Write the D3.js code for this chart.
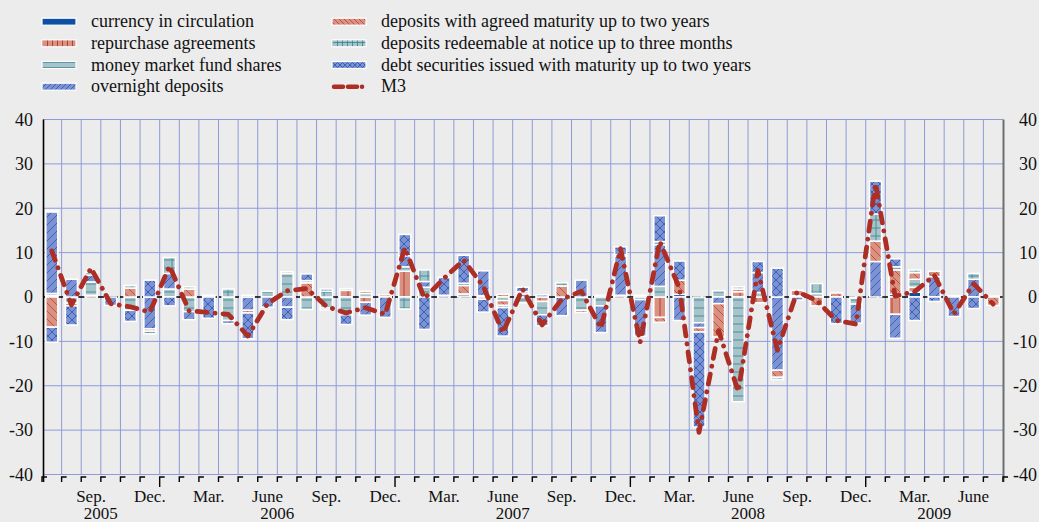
<!DOCTYPE html>
<html>
<head>
<meta charset="utf-8">
<script src="https://cdn.jsdelivr.net/npm/d3@7"></script>
<style>
  body { margin: 0; background: #ececec; }
  svg { display: block; font-family: "Liberation Serif", "Times New Roman", serif; }
</style>
</head>
<body>
<div id="chart"></div>
<script>
// Monthly contributions, July 2005 - July 2009 (percentage points)
var startMonth = new Date(2005, 6, 1);
var endMonth = new Date(2009, 7, 1);

//                2005: Jul..Dec           | 2006                                              | 2007                                              | 2008                                                  | 2009: Jan..Jul
var currency   = [0, 0, 0, 0, 0, 0,          0, 0, 0, 0, 0, 0, 0, 0, 0, 0, 0, 0,                 0, 0, 0, 0, 0, 0, 0, 0, 0, 0, 0, 0,                 0, 0, 0.6, 0, 0, 0, 0, 0, 0, 0, 0, 0,                  0, 0.6, 1.1, 0, 0.3, 0, 0];
var repos      = [0.3, 0, 0.4, 0, 0, 0,      0, 0, 0, 0, 0, 0, 0, 0, 0, 1.5, -1.2, 0.5,          5.8, 0, 0, 0, 0.3, 0.6, 0, -1.0, 0, 0, 0.4, 0.4,     0.4, -4.6, 0, 0, 0, 1.2, -1.3, 0, 0.3, 0, 0, -0.3,     0, -3.9, 1.1, 0, 0, 0, 0];
var mmfShares  = [0.5, -1.4, 3.0, 0, -3.0, 0, 1.8, -3.3, 0, -5.3, 0, 1.3, 5.3, -2.8, -2.5, -4.0, 0.8, 0, 1.0, 2.2, 0, 0.7, 0, -0.8, -1.3, -3.0, 0, -3.0, -2.0, 0, -0.6, 2.4, 0, -5.8, 1.4, -23.6, 1.0, 0, 0, 0.8, 0, -1.3, 0, 0, 1.8, 0, 0, 0, 0];
var overnight  = [18.4, 4.0, 1.5, -1.9, 0, -7.2, 3.5, -1.8, 0.4, -0.7, -3.0, -2.3, -2.3, 0, -0.4, 0, -2.9, -4.6, 2.5, 1.3, 0.4, 0, 5.6, 0, 0.7, 0.5, -4.2, 3.8, -6.0, 8.8, -8.2, 9.4, -5.3, -1.1, -1.5, 0, 4.5, -16.5, -0.7, 0, 0, -4.3, 8.0, -5.4, 0, 4.6, -4.4, 4.0, 0.2];
var agreed     = [-6.8, -0.6, 0, 0, 2.0, -0.5, 0, 1.8, 0, 0, -0.6, 0, 0.4, 3.2, 0, 0, 0.5, 0, 0, 0, 0, 1.9, -0.5, -1.1, 0.5, 0, 2.5, -0.5, 0, 0, 0, -1.1, 3.2, -1.0, -7.5, 0.6, 0, -1.6, 1.2, -2.0, 0.9, 0, 4.6, 5.5, 1.5, 1.2, 0, 0, -1.9];
var redeemable = [0.3, 0, 0.7, 0, 0.6, -0.6, 3.6, 0.5, 0, 1.8, 0.4, 0, 0, 0.5, 1.3, 0.4, 0, 0, -2.7, 2.6, 0, 0.5, 0, -0.5, 0, 0, 0.7, 0, 0, 0.3, 0, 0.7, 0, 0, 0, 0.5, 0, -0.5, 0, 2.2, 0, 0, 6.1, 0.7, 0.6, 0, 0, 1.3, 0];
var debtSec    = [-3.4, -4.3, 0, 0, -2.5, 3.8, -2.0, 0, -4.8, 0, -5.8, 0, -2.8, 1.5, 0.5, -2.2, 0, 0, 4.8, -7.3, 4.0, 6.3, -2.9, -6.4, 1.0, -2.5, 0, 0, 0, 1.8, 0, 5.8, 4.3, -21.4, 0, 0, 2.5, 6.5, 0, 0, -6.0, 0, 7.4, 1.8, -5.3, -1.0, 0, -2.6, 0];
var m3         = [10.4, -1.8, 6.5, -1.5, -2.2, -3.4, 7.0, -3.1, -3.5, -3.9, -8.8, -1.5, 1.4, 1.9, -2.1, -3.6, -2.4, -3.9, 11.1, -0.3, 4.2, 8.3, 2.4, -8.0, 1.8, -6.3, -0.5, 1.3, -7.0, 10.9, -10.2, 12.5, 2.0, -30.5, -7.6, -21.3, 6.0, -12.0, 1.2, -0.8, -5.3, -6.1, 25.6, 0.2, 1.2, 4.9, -3.8, 3.0, -1.6];

var seriesKeys = ["currency", "repos", "mmf", "overnight", "agreed", "redeemable", "debt"];
var seriesNames = [
  "currency in circulation",
  "repurchase agreements",
  "money market fund shares",
  "overnight deposits",
  "deposits with agreed maturity up to two years",
  "deposits redeemable at notice up to three months",
  "debt securities issued with maturity up to two years"
];
var yTicks = [-40, -30, -20, -10, 0, 10, 20, 30, 40];
var quarterLabels = { 2: "Mar.", 5: "June", 8: "Sep.", 11: "Dec." };
var years = [2005, 2006, 2007, 2008, 2009];

// fill + hatch style for each component
var styles = {
  currency:   { bg: "#0d4fa3", line: null, kind: "none" },
  repos:      { bg: "#d99282", line: "#b3332a", kind: "vert" },
  mmf:        { bg: "#a8c3ca", line: "#3b8995", kind: "horiz" },
  overnight:  { bg: "#7d92d3", line: "#2f5cb2", kind: "up" },
  agreed:     { bg: "#d99282", line: "#bb4a3e", kind: "down" },
  redeemable: { bg: "#a8c3ca", line: "#3b8995", kind: "plus" },
  debt:       { bg: "#7d92d3", line: "#2f5cb2", kind: "cross" }
};

var svgWidth = 1039;
var svgHeight = 522;
var fontSize = 18;

var svg = d3.select("#chart")
  .append("svg")
  .attr("width", svgWidth)
  .attr("height", svgHeight);

svg.append("rect")
  .attr("width", svgWidth)
  .attr("height", svgHeight)
  .attr("fill", "#ececec");

var defs = svg.append("defs");

function hatchPaths(kind, s) {
  var up = "M0," + s + "L" + s + ",0M-1,1L1,-1M" + (s - 1) + "," + (s + 1) + "L" + (s + 1) + "," + (s - 1);
  var down = "M0,0L" + s + "," + s + "M-1," + (s - 1) + "L1," + (s + 1) + "M" + (s - 1) + ",-1L" + (s + 1) + ",1";
  if (kind === "vert") return "M" + s / 2 + ",0V" + s;
  if (kind === "horiz") return "M0," + s / 2 + "H" + s;
  if (kind === "plus") return "M0," + s / 2 + "H" + s + "M" + s / 2 + ",0V" + s;
  if (kind === "up") return up;
  if (kind === "down") return down;
  if (kind === "cross") return up + down;
  return null;
}

function makePattern(id, st, size) {
  var p = defs.append("pattern")
    .attr("id", id)
    .attr("patternUnits", "userSpaceOnUse")
    .attr("width", size)
    .attr("height", size);
  p.append("rect").attr("width", size).attr("height", size).attr("fill", st.bg);
  var d = hatchPaths(st.kind, size);
  if (d) {
    p.append("path").attr("d", d).attr("stroke", st.line).attr("stroke-width", 0.9).attr("fill", "none");
  }
}

seriesKeys.forEach(function(k) {
  makePattern("bar-" + k, styles[k], 8);
  makePattern("leg-" + k, styles[k], 5);
});

// scales
var months = d3.timeMonth.range(startMonth, endMonth);
var x = d3.scaleBand().domain(months).range([42, 1003]).padding(0);
var y = d3.scaleLinear().domain([-40, 40]).range([474.5, 119.5]);
var bw = x.bandwidth();
var barW = 12;

// grid
var grid = svg.append("g").attr("stroke", "#8e9bd8").attr("stroke-width", 1);
yTicks.forEach(function(t) {
  if (t === 0) return;
  grid.append("line")
    .attr("x1", 43).attr("x2", 1003)
    .attr("y1", y(t)).attr("y2", y(t));
});
months.forEach(function(m, i) {
  if (i === 0) return;
  grid.append("line")
    .attr("x1", x(m)).attr("x2", x(m))
    .attr("y1", y(40)).attr("y2", y(-40));
});

// zero line
svg.append("line")
  .attr("x1", 43).attr("x2", 1003)
  .attr("y1", y(0)).attr("y2", y(0))
  .attr("stroke", "#000")
  .attr("stroke-width", 1.6)
  .attr("stroke-dasharray", "9,2");

// stacked bars
var rows = months.map(function(m, i) {
  return {
    month: m,
    currency: currency[i],
    repos: repos[i],
    mmf: mmfShares[i],
    overnight: overnight[i],
    agreed: agreed[i],
    redeemable: redeemable[i],
    debt: debtSec[i]
  };
});

var stacked = d3.stack()
  .keys(seriesKeys)
  .offset(d3.stackOffsetDiverging)(rows);

svg.append("g")
  .selectAll("g")
  .data(stacked)
  .enter()
  .append("g")
  .attr("fill", function(s) { return "url(#bar-" + s.key + ")"; })
  .selectAll("rect")
  .data(function(s) { return s.filter(function(d) { return d[1] !== d[0]; }); })
  .enter()
  .append("rect")
  .attr("x", function(d) { return x(d.data.month) + (bw - barW) / 2; })
  .attr("y", function(d) { return y(Math.max(d[0], d[1])); })
  .attr("width", barW)
  .attr("height", function(d) { return Math.abs(y(d[0]) - y(d[1])); })
  .attr("stroke", "#fff")
  .attr("stroke-width", 1.5);

// M3 line
var m3Line = d3.line()
  .x(function(d, i) { return x(months[i]) + bw / 2; })
  .y(function(d) { return y(d); });

svg.append("path")
  .datum(m3)
  .attr("d", m3Line)
  .attr("fill", "none")
  .attr("stroke", "#ad2e25")
  .attr("stroke-width", 4.8)
  .attr("stroke-linecap", "round")
  .attr("stroke-linejoin", "round")
  .attr("stroke-dasharray", "10,8,0.1,8");

// axes lines
svg.append("line")
  .attr("x1", 43.5).attr("x2", 43.5)
  .attr("y1", y(40)).attr("y2", 482)
  .attr("stroke", "#000").attr("stroke-width", 1.6);
svg.append("line")
  .attr("x1", 1003.5).attr("x2", 1003.5)
  .attr("y1", y(40)).attr("y2", 482)
  .attr("stroke", "#6f6f6f").attr("stroke-width", 2);

// y labels: both sides right-aligned, plain hyphen for negatives
var fmt = function(d) { return String(d); };
var leftAxis = d3.axisLeft(y).tickValues(yTicks).tickSize(0).tickPadding(10).tickFormat(fmt);
var rightAxis = d3.axisLeft(y).tickValues(yTicks).tickSize(0).tickPadding(0).tickFormat(fmt);

svg.append("g").attr("transform", "translate(43,0)").call(leftAxis)
  .call(function(g) { g.select(".domain").remove(); });
svg.append("g").attr("transform", "translate(1037,0)").call(rightAxis)
  .call(function(g) { g.select(".domain").remove(); });

svg.selectAll(".tick text")
  .attr("font-family", "Liberation Serif, serif")
  .attr("font-size", fontSize)
  .attr("fill", "#111");

// bottom ticks at month boundaries
var bottom = svg.append("g").attr("stroke", "#000").attr("stroke-width", 1.4).attr("fill", "none");
months.concat([endMonth]).forEach(function(m, i) {
  var xb = i < months.length ? x(m) : 1003;
  var longTick = m.getMonth() === 0;
  bottom.append("path")
    .attr("d", "M" + (xb + 5) + ",477H" + xb + "V" + (longTick ? 487 : 482));
});

// month labels
months.forEach(function(m) {
  var lab = quarterLabels[m.getMonth()];
  if (!lab) return;
  svg.append("text")
    .attr("x", x(m) + bw / 2)
    .attr("y", 502)
    .attr("text-anchor", "middle")
    .attr("font-size", 17)
    .attr("fill", "#111")
    .text(lab);
});

// year labels centred under their months
years.forEach(function(yr) {
  var ms = months.filter(function(m) { return m.getFullYear() === yr; });
  var x0 = x(ms[0]);
  var x1 = x(ms[ms.length - 1]) + bw;
  svg.append("text")
    .attr("x", (x0 + x1) / 2)
    .attr("y", 519)
    .attr("text-anchor", "middle")
    .attr("font-size", 17)
    .attr("fill", "#111")
    .text(yr);
});

// legend
var legRows = [21.7, 43.3, 65, 86.7];
var legend = svg.append("g");
seriesKeys.forEach(function(k, i) {
  var col = i < 4 ? 0 : 1;
  var row = i < 4 ? i : i - 4;
  var sx = col === 0 ? 42 : 332;
  var tx = col === 0 ? 91 : 381;
  legend.append("rect")
    .attr("x", sx)
    .attr("y", legRows[row] - 3.5)
    .attr("width", 34)
    .attr("height", 7)
    .attr("fill", "url(#leg-" + k + ")")
    .attr("stroke", "#fff")
    .attr("stroke-width", 1.2);
  legend.append("text")
    .attr("x", tx)
    .attr("y", legRows[row] + 5.5)
    .attr("font-size", fontSize)
    .attr("fill", "#111")
    .text(seriesNames[i]);
});
legend.append("line")
  .attr("x1", 334).attr("x2", 365)
  .attr("y1", legRows[3]).attr("y2", legRows[3])
  .attr("stroke", "#ad2e25")
  .attr("stroke-width", 4.5)
  .attr("stroke-linecap", "round")
  .attr("stroke-dasharray", "9,5,9,5,0.1,6");
legend.append("text")
  .attr("x", 381)
  .attr("y", legRows[3] + 5.5)
  .attr("font-size", fontSize)
  .attr("fill", "#111")
  .text("M3");
</script>
</body>
</html>
